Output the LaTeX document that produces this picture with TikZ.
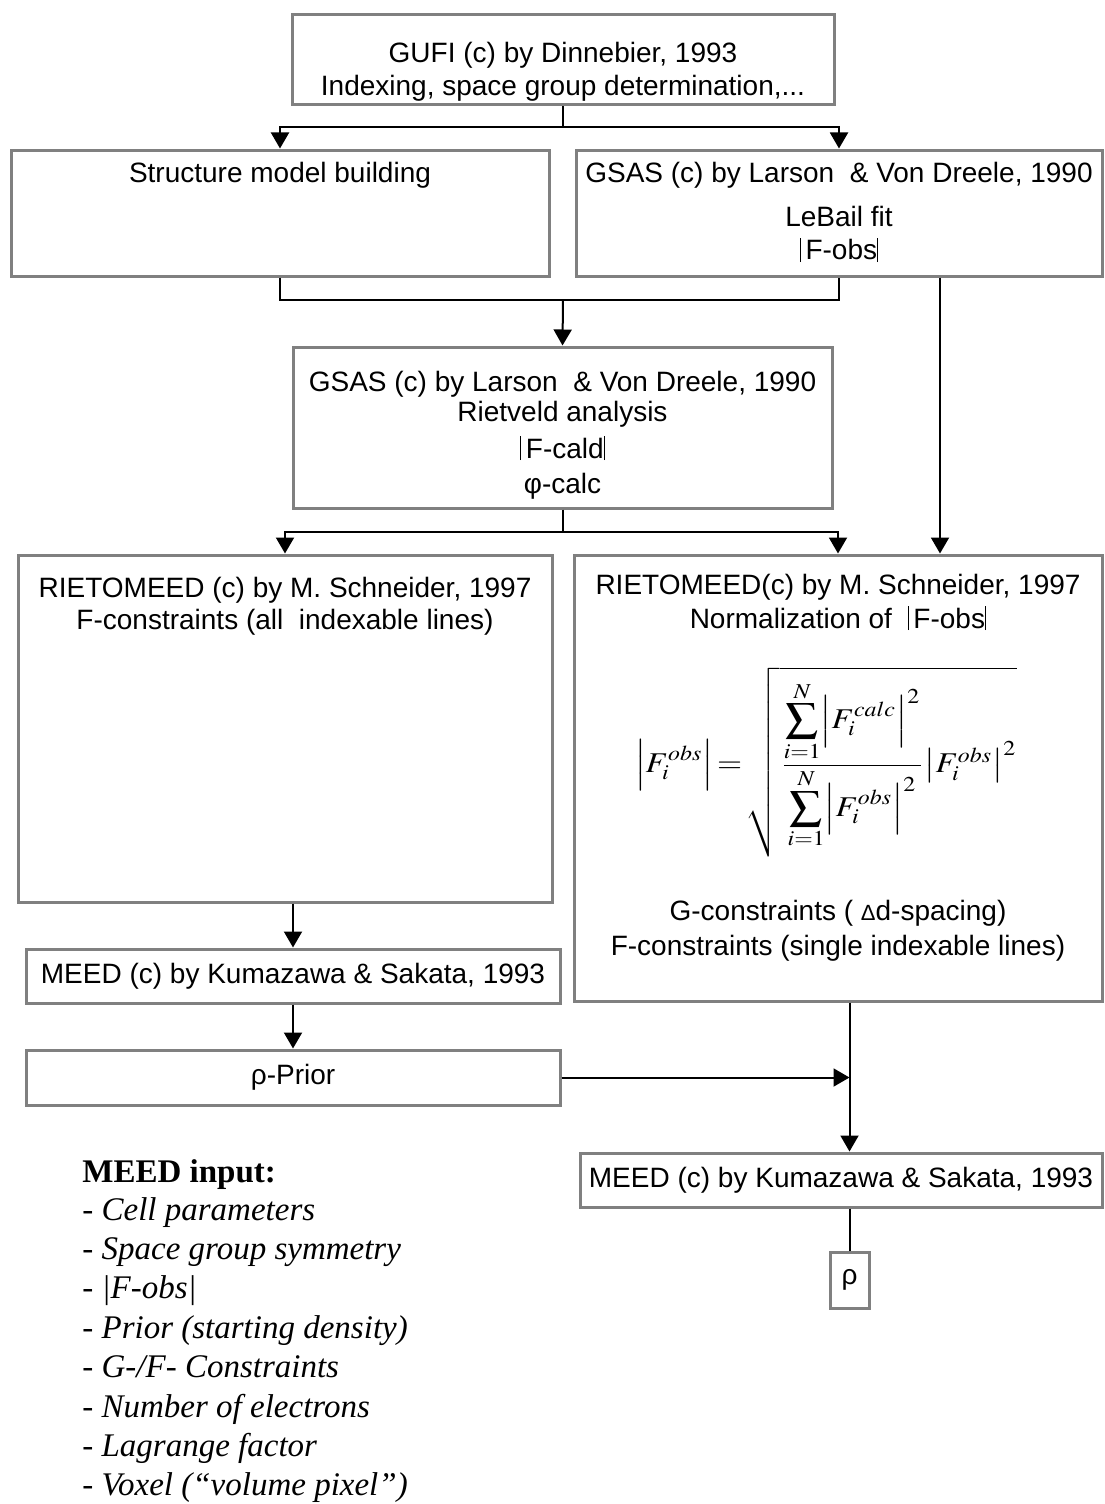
\documentclass[tikz,border=0pt]{standalone}
\usepackage{mathptmx}
\usepackage{fontspec}
\setmainfont{Liberation Serif}
\newfontfamily\arialfont{Liberation Sans}
\usepackage{graphicx}
\usetikzlibrary{arrows.meta}
\definecolor{boxgray}{RGB}{128,128,128}
\tikzstyle{box} = [rectangle, draw=boxgray, line width=1.5pt, fill=white, inner sep=0pt, font=\arialfont\fontsize{14}{16.5}\selectfont]
\tikzstyle{line} = [line width=1pt]
\tikzstyle{arrow} = [line width=1pt, -{Triangle[length=8pt,width=9pt]}]
\newcommand{\absbar}{\rule[-1pt]{0.6pt}{12pt}}
% width, height, first baseline, text
\newcommand{\boxtext}[4]{\parbox[c][#2][t]{#1}{\centering\rule{0pt}{#3}#4}}

\begin{document}
\begin{tikzpicture}[x=0.5pt, y=-0.5pt]
\useasboundingbox (0,0) rectangle (1104,1504);

\node[box] (gufi) at (563,60) {\boxtext{271pt}{45pt}{24pt}{GUFI (c) by Dinnebier, 1993\\ Indexing, space group determination,...}};

\node[box] (structure) at (280,213) {\boxtext{269pt}{63pt}{16pt}{Structure model building}};

\node[box] (lebail) at (839,213) {\boxtext{263pt}{63pt}{16pt}{GSAS (c) by Larson\ \ \& Von Dreele, 1990\\[5.5pt]
LeBail fit\\[0.5pt]
\absbar\,F-obs\absbar}};

\node[box] (rietveld) at (562.5,427.5) {\boxtext{269.5pt}{80.5pt}{22pt}{GSAS (c) by Larson\ \ \& Von Dreele, 1990\\[-1.5pt]
Rietveld analysis\\[2pt]
\absbar\,F-cald\absbar\\[1pt]
φ-calc}};

\node[box] (fconstr) at (285,728.5) {\boxtext{267pt}{173.5pt}{21pt}{RIETOMEED (c) by M. Schneider, 1997\\[-0.5pt]
F-constraints (all\ \ indexable lines)}};

\node[box] (normal) at (838,778) {\boxtext{264pt}{223pt}{19.5pt}{RIETOMEED(c) by M. Schneider, 1997\\[0.5pt]
Normalization of \ \absbar\,F-obs\absbar\\[129.5pt]
G-constraints ( {\fontsize{11}{11}\selectfont Δ}d-spacing)\\[1pt]
F-constraints (single indexable lines)}};

\node[inner sep=0pt] (formula) at (826,762) {\resizebox*{191pt}{95pt}{$\displaystyle \left|F_i^{obs}\right|\!=\!\sqrt{\frac{\displaystyle\sum_{i=1}^{N}\!\left|F_i^{calc}\right|^2}{\displaystyle\sum_{i=1}^{N}\!\left|F_i^{obs}\right|^2}\!\left|F_i^{obs}\right|^2}$}};

\node[box, minimum width=267pt, minimum height=27pt] (meedleft) at (293,976) {MEED (c) by Kumazawa \& Sakata, 1993};
\node[box, minimum width=267pt, minimum height=27.5pt] (prior) at (293,1077.5) {ρ-Prior};
\node[box, minimum width=261pt, minimum height=27pt] (meedright) at (841,1180) {MEED (c) by Kumazawa \& Sakata, 1993};
\node[box, minimum width=19.5pt, minimum height=28pt] (rho) at (849.5,1280) {ρ};

\node[anchor=north west, inner sep=0pt, align=left, font=\fontsize{16.5}{19.7}\selectfont] (input) at (82,1159) {\textbf{MEED input:}\\[-0.8pt]
\textit{- Cell parameters}\\
\textit{- Space group symmetry}\\
\textit{- |F-obs|}\\
\textit{- Prior (starting density)}\\
\textit{- G-/F- Constraints}\\
\textit{- Number of electrons}\\
\textit{- Lagrange factor}\\
\textit{- Voxel (“volume pixel”)}};

\draw [line] (gufi.south) -- ++(0,21) coordinate (split1);
\draw [arrow] (split1) -| (structure.north);
\draw [arrow] (split1) -| (lebail.north);

\coordinate (merge1) at (563,300);
\draw [line] (structure.south) |- (merge1) -| (lebail.south);
\draw [arrow] (merge1) -- (rietveld.north);
\draw [arrow] ([xshift=50.5pt]lebail.south) coordinate (obs) -- (obs |- normal.north);

\draw [line] (rietveld.south) -- ++(0,22) coordinate (split2);
\draw [arrow] (split2) -| (fconstr.north);
\draw [arrow] (split2) -| (normal.north);

\draw [arrow] (fconstr.south -| meedleft.north) -- (meedleft.north);
\draw [arrow] (meedleft) -- (prior);
\draw [arrow] (prior.east) -- (prior.east -| rho.north);
\draw [arrow] (normal.south -| rho.north) -- (meedright.north -| rho.north);
\draw [line] (meedright.south -| rho.north) -- (rho.north);

\end{tikzpicture}
\end{document}
